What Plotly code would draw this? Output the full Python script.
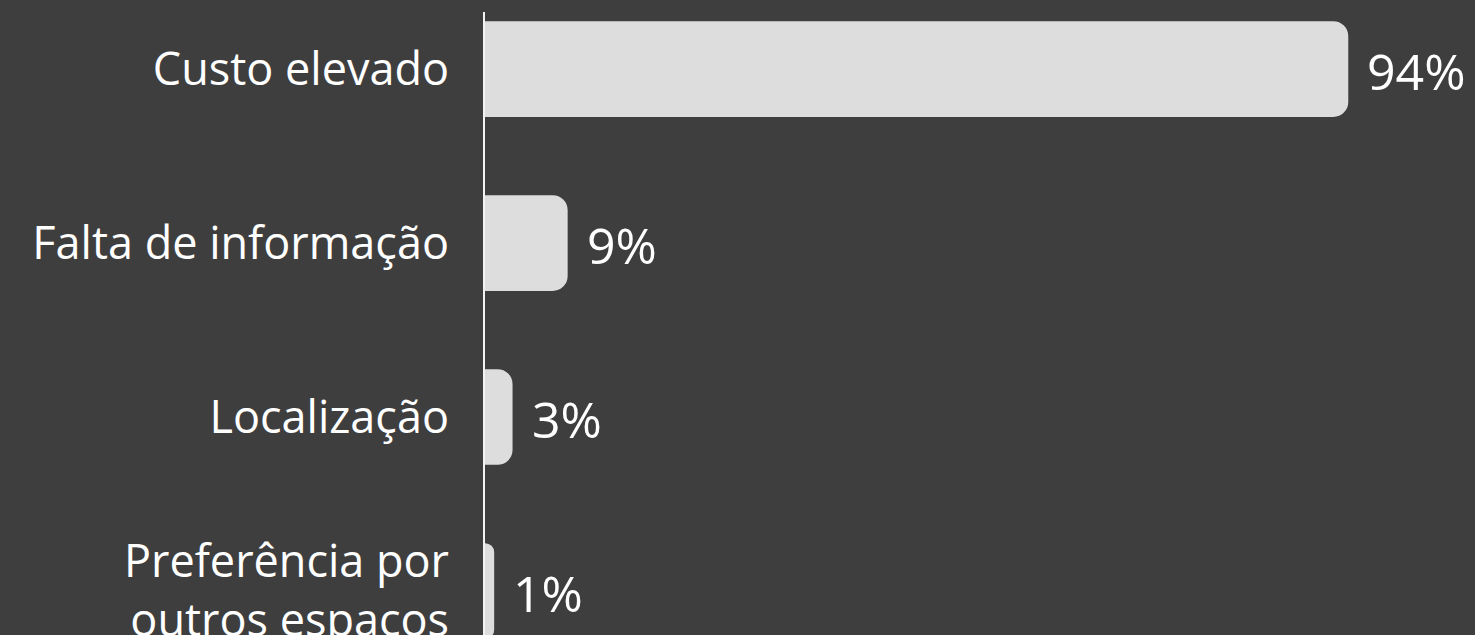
import plotly.graph_objects as go

categories = ["Custo elevado", "Falta de informação", "Localização", "Preferência por<br>outros espaços"]
values = [94, 9, 3, 1]
labels = ["94%", "9%", "3%", "1%"]

BG = "#3e3e3e"
BAR = "#dddddd"
FONT = "Open Sans"

fig = go.Figure()
fig.add_trace(go.Bar(
    x=values, y=categories, orientation="h",
    marker=dict(color=BAR, line=dict(width=0), cornerradius=15),
    width=0.55,
    hoverinfo="skip",
))
for c, v, t in zip(categories, values, labels):
    fig.add_annotation(x=v, y=c, text=t, xanchor="left", yanchor="middle",
                       xshift=17, yshift=-2, showarrow=False,
                       font=dict(family=FONT, size=50, color="#ffffff"))

fig.update_layout(
    width=1475, height=635,
    paper_bgcolor=BG, plot_bgcolor=BG,
    margin=dict(l=485, r=0, t=12, b=0, autoexpand=False),
    showlegend=False,
    font=dict(family=FONT, color="#ffffff"),
    xaxis=dict(range=[0, 107.8], visible=False, fixedrange=True, automargin=False),
    yaxis=dict(type="category", categoryorder="array", categoryarray=categories,
               range=[3.253, -0.328], showline=True, linecolor="#f2f2f2", linewidth=2,
               showgrid=False, zeroline=False, ticks="outside", ticklen=25,
               tickcolor="rgba(0,0,0,0)", fixedrange=True, automargin=False,
               tickfont=dict(family=FONT, size=45, color="#ffffff")),
)
fig.write_html("out.html", config={"displayModeBar": False},
               post_script="document.body.style.margin='0';document.body.style.background='#3e3e3e';document.body.style.overflow='hidden';")
